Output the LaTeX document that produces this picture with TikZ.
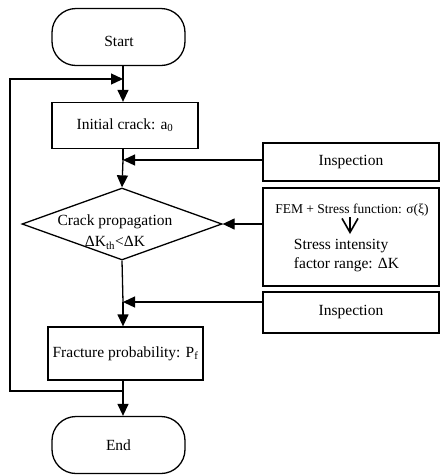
\documentclass[tikz,border=0pt]{standalone}
\usepackage{fontspec}
\setmainfont{Liberation Serif}
\usetikzlibrary{arrows.meta,shapes.geometric,calc}
\begin{document}
\begin{tikzpicture}[x=1pt,y=-1pt,
  line width=1.3pt,
  font=\fontsize{15.5}{18}\selectfont,
  term/.style={draw,rounded corners=24pt,minimum width=133pt,minimum height=57pt,inner sep=0pt},
  proc/.style={draw,inner sep=0pt},
  arr/.style={-{Triangle[length=12pt,width=11pt]}},
  lin/.style={-}]
\useasboundingbox (0,0) rectangle (440,475);
\coordinate (spine) at (123,0);
\node[term] (start) at (118.5,37) {};
\node (startt) at (119,41) {Start};
\node[proc,minimum width=146pt,minimum height=46pt] (init) at (125,125.5) {Initial crack: a\textsubscript{0}};
\node[proc,minimum width=176pt,minimum height=38pt] (insp1) at (351,162) {Inspection};
\node[draw,diamond,minimum width=200pt,minimum height=72pt,inner sep=0pt] (dia) at (122,224) {};
\node[align=center,font=\fontsize{15.5}{21}\selectfont] (diat) at (115,232) {Crack propagation\\ΔK\textsubscript{th}<ΔK};
\node[proc,minimum width=176pt,minimum height=98pt] (fem) at (351,237) {};
\node[font=\fontsize{13.5}{15}\selectfont] (fem1) at (352,210) {FEM + Stress function: σ(ξ)};
\node[align=left,anchor=west,font=\fontsize{15.5}{19}\selectfont] (fem2) at (290,256) {Stress intensity\\factor range: ΔK};
\node[proc,minimum width=176pt,minimum height=41pt] (insp2) at (351,312.5) {Inspection};
\node[proc,minimum width=155pt,minimum height=53pt] (frac) at (125.5,353.5) {Fracture probability: P\textsubscript{f}};
\node[term] (end) at (118.5,445) {End};
\coordinate (j1) at (123,79);
\coordinate (j2) at (123,160);
\coordinate (j3) at (123,302);
\coordinate (j4) at (123,391);
\coordinate (lb) at (10,391);
\coordinate (lt) at (10,79);
\coordinate (va) at (350,217);
\coordinate (vb) at (350,234);
\draw[lin] (start.south -| spine) -- (j1);
\draw[arr] (j1) -- (init.north -| spine);
\draw[lin] (init.south -| spine) -- (j2);
\draw[arr] (j2) -- (dia.north);
\draw[arr] (insp1.west |- j2) -- (j2);
\draw[arr] (fem.west |- dia.east) -- (dia.east);
\draw[lin] (dia.south) -- (j3);
\draw[arr] (j3) -- (frac.north -| spine);
\draw[arr] (insp2.west |- j3) -- (j3);
\draw[lin] (frac.south -| spine) -- (j4);
\draw[arr] (j4) -- (end.north -| spine);
\draw[arr] (j4) -- (lb) -- (lt) -- (j1);
\draw[line width=1.6pt,-{Straight Barb[length=14pt,width=16pt]}] (va) -- (vb);
\end{tikzpicture}
\end{document}
